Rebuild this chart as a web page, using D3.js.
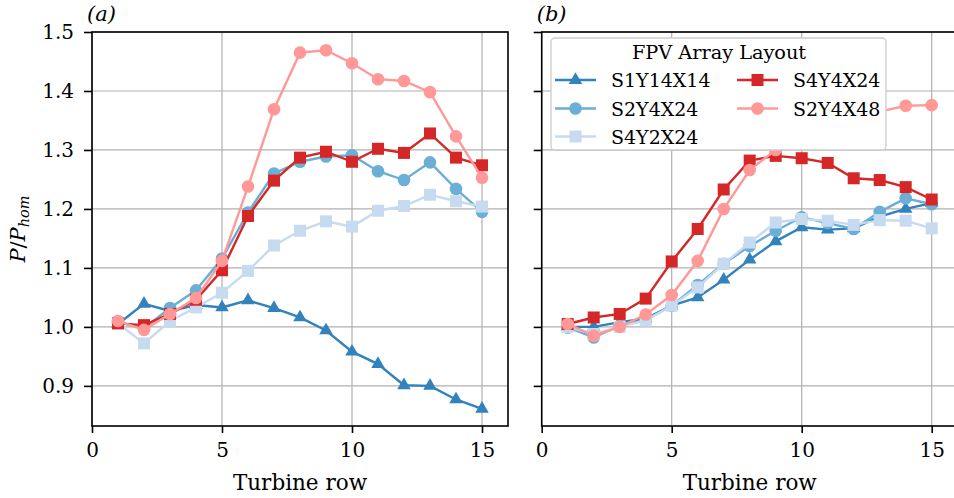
<!DOCTYPE html>
<html>
<head>
<meta charset="utf-8">
<script src="https://cdn.jsdelivr.net/npm/d3@7"></script>
<style>
  html, body { margin: 0; padding: 0; background: #fff; }
  svg { display: block; font-family: "DejaVu Serif", serif; }
</style>
</head>
<body>
<svg id="chart" width="954" height="498"></svg>
<script>
// Turbine rows along the array
const rows = [1, 2, 3, 4, 5, 6, 7, 8, 9, 10, 11, 12, 13, 14, 15];

// Layout names, in plotting order
const layouts = ["S1Y14X14", "S2Y4X24", "S4Y2X24", "S4Y4X24", "S2Y4X48"];

// Panel (a): normalised power P/P_hom per row
const S1Y14X14_a = [1.005, 1.039, 1.027, 1.037, 1.033, 1.045, 1.032, 1.016, 0.994, 0.958, 0.937, 0.901, 0.900, 0.877, 0.861];
const S2Y4X24_a  = [1.008, 0.998, 1.032, 1.062, 1.116, 1.194, 1.260, 1.280, 1.289, 1.291, 1.264, 1.249, 1.279, 1.234, 1.195];
const S4Y2X24_a  = [1.006, 0.972, 1.010, 1.033, 1.058, 1.095, 1.138, 1.163, 1.179, 1.170, 1.197, 1.205, 1.224, 1.213, 1.204];
const S4Y4X24_a  = [1.006, 1.003, 1.022, 1.046, 1.096, 1.188, 1.248, 1.287, 1.297, 1.280, 1.302, 1.295, 1.328, 1.287, 1.274];
const S2Y4X48_a  = [1.010, 0.995, 1.022, 1.049, 1.112, 1.238, 1.369, 1.465, 1.469, 1.447, 1.420, 1.417, 1.398, 1.323, 1.253];

// Panel (b): normalised power P/P_hom per row
const S1Y14X14_b = [1.000, 1.000, 1.008, 1.014, 1.036, 1.050, 1.080, 1.114, 1.145, 1.169, 1.165, 1.167, 1.187, 1.200, 1.210];
const S2Y4X24_b  = [0.999, 0.982, 1.002, 1.012, 1.036, 1.071, 1.107, 1.137, 1.163, 1.186, 1.176, 1.166, 1.195, 1.218, 1.208];
const S4Y2X24_b  = [1.000, 0.988, 1.000, 1.011, 1.036, 1.067, 1.107, 1.143, 1.177, 1.183, 1.180, 1.173, 1.181, 1.180, 1.167];
const S4Y4X24_b  = [1.005, 1.016, 1.022, 1.048, 1.111, 1.166, 1.233, 1.282, 1.290, 1.286, 1.278, 1.252, 1.249, 1.237, 1.216];
const S2Y4X48_b  = [1.005, 0.985, 1.000, 1.021, 1.054, 1.112, 1.200, 1.266, 1.300, 1.320, 1.340, 1.355, 1.365, 1.375, 1.376];

// Tick values
const xTicks = [0, 5, 10, 15];
const yTicks = [0.9, 1.0, 1.1, 1.2, 1.3, 1.4, 1.5];

const panelA = [S1Y14X14_a, S2Y4X24_a, S4Y2X24_a, S4Y4X24_a, S2Y4X48_a];
const panelB = [S1Y14X14_b, S2Y4X24_b, S4Y2X24_b, S4Y4X24_b, S2Y4X48_b];

const colors  = ["#3182bd", "#6baed6", "#c6dbef", "#d62728", "#ff9896"];
const markers = ["triangle", "circle", "square", "square", "circle"];

const svg = d3.select("#chart");
const plotTop = 32, plotBottom = 426, panelW = 416;
const panels = [
  { left: 92,    label: "(a)", data: panelA, yLabels: true },
  { left: 541.7, label: "(b)", data: panelB, yLabels: false }
];

const y = d3.scaleLinear().domain([0.832, 1.5]).range([plotBottom, plotTop]);

function drawMarker(g, type, cx, cy, color) {
  if (type === "circle") {
    g.append("circle").attr("cx", cx).attr("cy", cy).attr("r", 6.3).attr("fill", color);
  } else if (type === "square") {
    g.append("rect").attr("x", cx - 6).attr("y", cy - 6).attr("width", 12).attr("height", 12).attr("fill", color);
  } else {
    const r = 7.8;
    const pts = [[cx, cy - r], [cx + r * 0.866, cy + r * 0.5], [cx - r * 0.866, cy + r * 0.5]];
    g.append("path").attr("d", "M" + pts.map(p => p.join(",")).join("L") + "Z").attr("fill", color);
  }
}

panels.forEach(p => {
  const x = d3.scaleLinear().domain([0, 16]).range([p.left, p.left + panelW]);
  const g = svg.append("g");

  // grid
  g.append("g").selectAll("line").data(xTicks).join("line")
    .attr("x1", d => x(d)).attr("x2", d => x(d)).attr("y1", plotTop).attr("y2", plotBottom)
    .attr("stroke", "#b0b0b0").attr("stroke-width", 1.2);
  g.append("g").selectAll("line").data(yTicks).join("line")
    .attr("x1", p.left).attr("x2", p.left + panelW).attr("y1", d => y(d)).attr("y2", d => y(d))
    .attr("stroke", "#b0b0b0").attr("stroke-width", 1.2);

  // series
  p.data.forEach((vals, si) => {
    const line = d3.line().x((d, i) => x(rows[i])).y(d => y(d));
    g.append("path").datum(vals).attr("d", line)
      .attr("fill", "none").attr("stroke", colors[si]).attr("stroke-width", 2.4);
    const mg = g.append("g");
    vals.forEach((v, i) => drawMarker(mg, markers[si], x(rows[i]), y(v), colors[si]));
  });

  // frame
  g.append("rect").attr("x", p.left).attr("y", plotTop).attr("width", panelW).attr("height", plotBottom - plotTop)
    .attr("fill", "none").attr("stroke", "#000").attr("stroke-width", 1.6);

  // axes
  const xAxis = d3.axisBottom(x).tickValues(xTicks).tickFormat(d3.format("d")).tickSize(7).tickPadding(10);
  const gx = g.append("g").attr("transform", `translate(0,${plotBottom})`).call(xAxis);
  const yAxis = d3.axisLeft(y).tickValues(yTicks).tickFormat(p.yLabels ? d3.format(".1f") : "").tickSize(8).tickPadding(10);
  const gy = g.append("g").attr("transform", `translate(${p.left},0)`).call(yAxis);
  [gx, gy].forEach(a => {
    a.select(".domain").remove();
    a.selectAll(".tick line").attr("stroke", "#000").attr("stroke-width", 1.6);
    a.selectAll(".tick text").attr("fill", "#000").style("font-family", "DejaVu Serif")
      .style("font-size", "20px");
  });

  g.append("text").attr("x", p.left + panelW / 2).attr("y", 490)
    .attr("text-anchor", "middle").style("font-size", "21.5px").text("Turbine row");

  g.append("text").attr("x", p.left - 5).attr("y", 21)
    .style("font-size", "21px").style("font-style", "italic").text(p.label);
});

// y label: P / P_hom
const yl = svg.append("text").attr("transform", "translate(25,229) rotate(-90)")
  .attr("text-anchor", "middle").style("font-size", "21px");
yl.append("tspan").style("font-style", "italic").text("P");
yl.append("tspan").text("/");
yl.append("tspan").style("font-style", "italic").text("P");
yl.append("tspan").style("font-style", "italic").style("font-size", "14.5px").attr("dy", 4).text("hom");

// legend
const lg = svg.append("g");
lg.append("rect").attr("x", 551).attr("y", 38).attr("width", 335).attr("height", 112)
  .attr("rx", 4).attr("fill", "#fff").attr("fill-opacity", 1).attr("stroke", "#cccccc").attr("stroke-width", 1.3);
lg.append("text").attr("x", 719).attr("y", 59).attr("text-anchor", "middle")
  .style("font-size", "19.3px").text("FPV Array Layout");
const cols = [555, 737];
const rowY = [80, 108.5, 136.5];
layouts.forEach((name, i) => {
  const c = i < 3 ? 0 : 1, r = i < 3 ? i : i - 3;
  const hx = cols[c], hy = rowY[r];
  lg.append("line").attr("x1", hx).attr("x2", hx + 41).attr("y1", hy).attr("y2", hy)
    .attr("stroke", colors[i]).attr("stroke-width", 2.4);
  drawMarker(lg, markers[i], hx + 20.5, hy, colors[i]);
  lg.append("text").attr("x", hx + 56).attr("y", hy + 7)
    .style("font-size", "19px").text(name);
});
</script>
</body>
</html>
